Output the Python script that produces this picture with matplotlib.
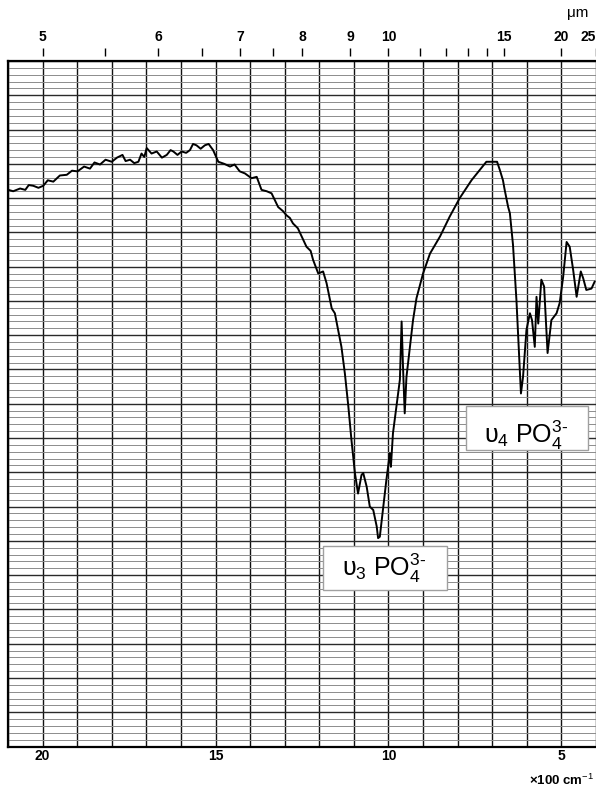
import numpy as np
import matplotlib.pyplot as plt
from matplotlib.patches import Rectangle

plt.rcParams['font.family'] = ['Liberation Sans', 'DejaVu Sans']
plt.rcParams['mathtext.fontset'] = 'custom'
plt.rcParams['mathtext.rm'] = 'Liberation Sans'
plt.rcParams['mathtext.it'] = 'Liberation Sans'

# IR spectrum (wavenumber in cm-1, transmittance in %)
wavenumber = [2099, 2085, 2065, 2050, 2040, 2027, 2012, 1998, 1985, 1969,
              1950, 1930, 1915, 1899, 1880, 1863, 1850, 1834, 1818, 1800,
              1785, 1769, 1760, 1747, 1735, 1723, 1714, 1706, 1699, 1685,
              1670, 1655, 1641, 1630, 1622, 1610, 1598, 1585, 1574, 1565,
              1555, 1543, 1531, 1520, 1507, 1492, 1475, 1458, 1445, 1430,
              1415, 1396, 1381, 1367, 1352, 1338, 1319, 1305, 1295, 1285,
              1276, 1262, 1251, 1237, 1225, 1218, 1203, 1189, 1179, 1164,
              1155, 1136, 1126, 1116, 1107, 1097, 1088, 1078, 1073, 1063,
              1054, 1044, 1034, 1030, 1025, 1015, 1006, 996, 993, 987,
              977, 967, 962, 958, 953, 948, 938, 929, 919, 900,
              880, 851, 823, 794, 760, 736, 717, 697, 686, 678,
              669, 664, 654, 649, 640, 630, 623, 617, 611, 601,
              591, 585, 577, 572, 567, 558, 550, 540, 529, 514,
              505, 495, 485, 476, 466, 456, 444, 437, 428, 413, 404]
transmittance = [81.2, 81.0, 81.4, 81.2, 81.9, 81.8, 81.5, 81.8, 82.6, 82.4,
                 83.3, 83.4, 84.0, 83.9, 84.6, 84.3, 85.2, 84.9, 85.6, 85.3,
                 85.9, 86.3, 85.4, 85.6, 85.1, 85.3, 86.5, 86.0, 87.3, 86.5,
                 86.8, 85.9, 86.3, 87.0, 86.8, 86.3, 86.8, 86.6, 87.0, 87.9,
                 87.7, 87.2, 87.7, 87.9, 87.0, 85.3, 85.0, 84.6, 84.9, 83.9,
                 83.6, 82.9, 83.1, 81.2, 81.0, 80.7, 78.7, 78.1, 77.5, 77.1,
                 76.3, 75.6, 74.4, 72.9, 72.3, 71.0, 69.0, 69.3, 67.6, 63.9,
                 63.2, 58.3, 54.4, 49.6, 44.7, 39.9, 36.9, 39.6, 39.9, 37.9,
                 35.0, 34.5, 32.1, 30.4, 30.6, 35.0, 38.9, 42.8, 40.8, 45.7,
                 49.6, 53.5, 62.0, 55.4, 48.6, 53.9, 58.3, 62.2, 65.4, 69.0,
                 71.9, 74.4, 77.3, 80.0, 82.6, 84.1, 85.3, 85.3, 85.3, 84.1,
                 82.6, 81.2, 78.7, 77.8, 73.2, 65.1, 57.8, 51.5, 53.9, 60.8,
                 63.2, 62.2, 58.3, 65.6, 61.7, 68.1, 67.1, 57.4, 62.2, 63.2,
                 64.7, 68.5, 73.6, 72.9, 69.5, 65.6, 69.3, 68.3, 66.6, 66.8, 67.8]

# axis labels
bottom_ticks = [2000, 1500, 1000, 500]
bottom_labels = ['20', '15', '10', '5']
um_ticks = [5, 5.5, 6, 6.5, 7, 7.5, 8, 9, 10, 11, 12, 13, 14, 15, 20, 25]
um_labels = ['5', '', '6', '', '7', '', '8', '9', '10', '', '', '', '', '15', '20', '25']


def wn_to_um(w):
    w = np.asarray(w, dtype=float)
    with np.errstate(divide='ignore'):
        return 1e4 / w


fig = plt.figure(figsize=(5.96, 7.89), dpi=100)
ax = fig.add_axes([8 / 596, 1 - 746.5 / 789, 588 / 596, 685.5 / 789])
ax.set_xlim(2100, 400)
ax.set_ylim(0, 100)

# chart paper grid
for v in range(400, 2101, 100):
    ax.axvline(v, color='#111111', lw=1.0, zorder=1)
for t in range(0, 101):
    if t % 5 == 0:
        ax.axhline(t, color='#2a2a2a', lw=1.0, zorder=1)
    else:
        ax.axhline(t, color='#8c8c8c', lw=0.7, zorder=1)

ax.plot(wavenumber, transmittance, color='black', lw=1.4, zorder=3)

for side in ['left', 'top', 'bottom']:
    ax.spines[side].set_linewidth(1.6)
ax.spines['right'].set_visible(False)

ax.set_yticks([])
ax.set_xticks(bottom_ticks, bottom_labels)
ax.tick_params(axis='x', length=0, pad=2, labelsize=10)
for lab in ax.get_xticklabels():
    lab.set_fontweight('bold')

# wavelength scale on top
sec = ax.secondary_xaxis(1.0066, functions=(wn_to_um, wn_to_um))
sec.set_ticks(um_ticks, um_labels)
sec.tick_params(direction='out', length=6, width=1, pad=3, labelsize=10)
for lab in sec.get_xticklabels():
    lab.set_fontweight('bold')
    if lab.get_text() == '25':
        lab.set_horizontalalignment('right')
for s in sec.spines.values():
    s.set_visible(False)

fig.text(567 / 596, 1 - 13 / 789, 'μm', fontsize=11, va='center', ha='left')
fig.text(529 / 596, 1 - 780 / 789, '×100 cm$^{-1}$', fontsize=9.5, fontweight='bold',
         va='center', ha='left')

# band labels
ax.add_patch(Rectangle((1190, 22.9), 832 - 1190, 29.2 - 22.9, facecolor='white',
                       edgecolor='#a0a0a0', lw=1, zorder=5))
ax.text(1013, 24.8, r'υ$_3$ PO$_4^{3\text{-}}$', fontsize=18, ha='center', va='baseline', zorder=6)
ax.add_patch(Rectangle((776, 43.2), 423 - 776, 49.6 - 43.2, facecolor='white',
                       edgecolor='#a0a0a0', lw=1, zorder=5))
ax.text(603, 44.3, r'υ$_4$ PO$_4^{3\text{-}}$', fontsize=18, ha='center', va='baseline', zorder=6)

fig.savefig('out.png', dpi=100)
